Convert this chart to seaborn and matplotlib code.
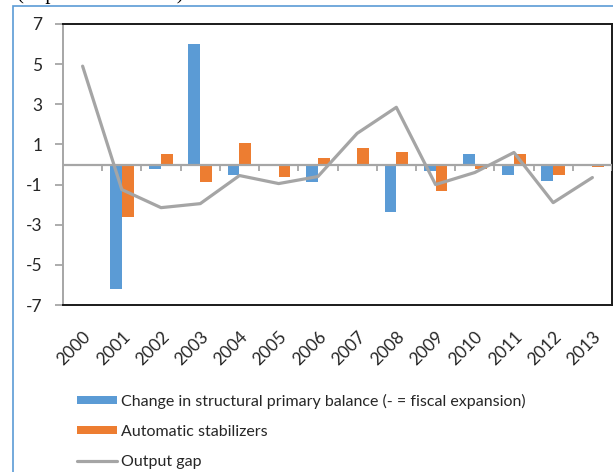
import pandas as pd
import numpy as np
import matplotlib
matplotlib.use('Agg')
import matplotlib.pyplot as plt
import seaborn as sns
from matplotlib.patches import Rectangle

# values
years = ['2000', '2001', '2002', '2003', '2004', '2005', '2006',
         '2007', '2008', '2009', '2010', '2011', '2012', '2013']
structural_balance = [0.0, -6.2, -0.2, 6.0, -0.5, 0.0, -0.85,
                      0.0, -2.35, -0.3, 0.5, -0.5, -0.8, 0.0]
auto_stabilizers = [0.0, -2.6, 0.5, -0.85, 1.05, -0.6, 0.3,
                    0.8, 0.6, -1.3, -0.2, 0.5, -0.5, -0.1]
output_gap = [4.9, -1.25, -2.15, -1.95, -0.55, -0.95, -0.6,
              1.55, 2.85, -1.0, -0.4, 0.6, -1.9, -0.65]
yticks = [-7, -5, -3, -1, 1, 3, 5, 7]

lbl_struct = 'Change in structural primary balance (- = fiscal expansion)'
lbl_auto = 'Automatic stabilizers'
lbl_gap = 'Output gap'

bars = pd.DataFrame({
    'year': years * 2,
    'value': structural_balance + auto_stabilizers,
    'series': [lbl_struct] * len(years) + [lbl_auto] * len(years),
})

sns.set_theme(style='white')
plt.rcParams['font.family'] = ['Lato', 'DejaVu Sans']

fig = plt.figure(figsize=(6.13, 4.72), dpi=100)
ax = fig.add_axes([63 / 613, 167 / 472, 549 / 613, 281 / 472])

sns.barplot(data=bars, x='year', y='value', hue='series', order=years,
            hue_order=[lbl_struct, lbl_auto],
            palette=['#5B9BD5', '#ED7D31'], saturation=1, width=0.6,
            linewidth=0, ax=ax, zorder=2)

# zero line with category tick marks
ax.axhline(0, color='#A6A6A6', lw=1.6, zorder=3)
bounds = np.arange(1, len(years) + 1) - 0.5
ax.vlines(bounds, -0.33, 0, color='#A6A6A6', lw=1.3, zorder=3)

sns.lineplot(x=np.arange(len(years)), y=output_gap, color='#A5A5A5',
             lw=2.3, label=lbl_gap, ax=ax, zorder=4)

ax.set_xlim(-0.5, len(years) - 0.5)
ax.set_ylim(-7, 7)
ax.set_yticks(yticks)
ax.set_yticklabels([str(v) for v in yticks], fontsize=12.5, color='#262626')
ax.set_xticks(np.arange(len(years)))
ax.set_xticklabels(years, rotation=45, ha='right', rotation_mode='anchor',
                   fontsize=12.5, color='#262626')
ax.tick_params(axis='x', length=0, pad=17)
ax.tick_params(axis='y', length=6, width=1.3, color='#A6A6A6', pad=9,
               direction='out', left=True)
ax.set_xlabel('')
ax.set_ylabel('')

for side in ['top', 'right', 'bottom']:
    ax.spines[side].set_color('#1a1a1a')
    ax.spines[side].set_linewidth(1.4)
ax.spines['left'].set_color('#A6A6A6')
ax.spines['left'].set_linewidth(1.4)

handles, labels = ax.get_legend_handles_labels()
ax.legend(handles, labels, loc='upper left', bbox_to_anchor=(0.125, 0.166),
          bbox_transform=fig.transFigure, frameon=False, fontsize=11.5,
          handlelength=2.5, handleheight=0.44, handletextpad=0.3,
          labelspacing=1.0, borderpad=0, borderaxespad=0)

# outer blue frame and clipped heading, as in the cropped source
fig.add_artist(Rectangle((13 / 613, -0.1), 2, 0.1 + 466 / 472,
                         transform=fig.transFigure, fill=False,
                         edgecolor='#5B9BD5', lw=1.2))
fig.text(17 / 613, 1.003, '(in percent of GDP)', family='Liberation Serif',
         fontsize=15, va='baseline', ha='left', color='black')

fig.savefig('out.png', dpi=100)
